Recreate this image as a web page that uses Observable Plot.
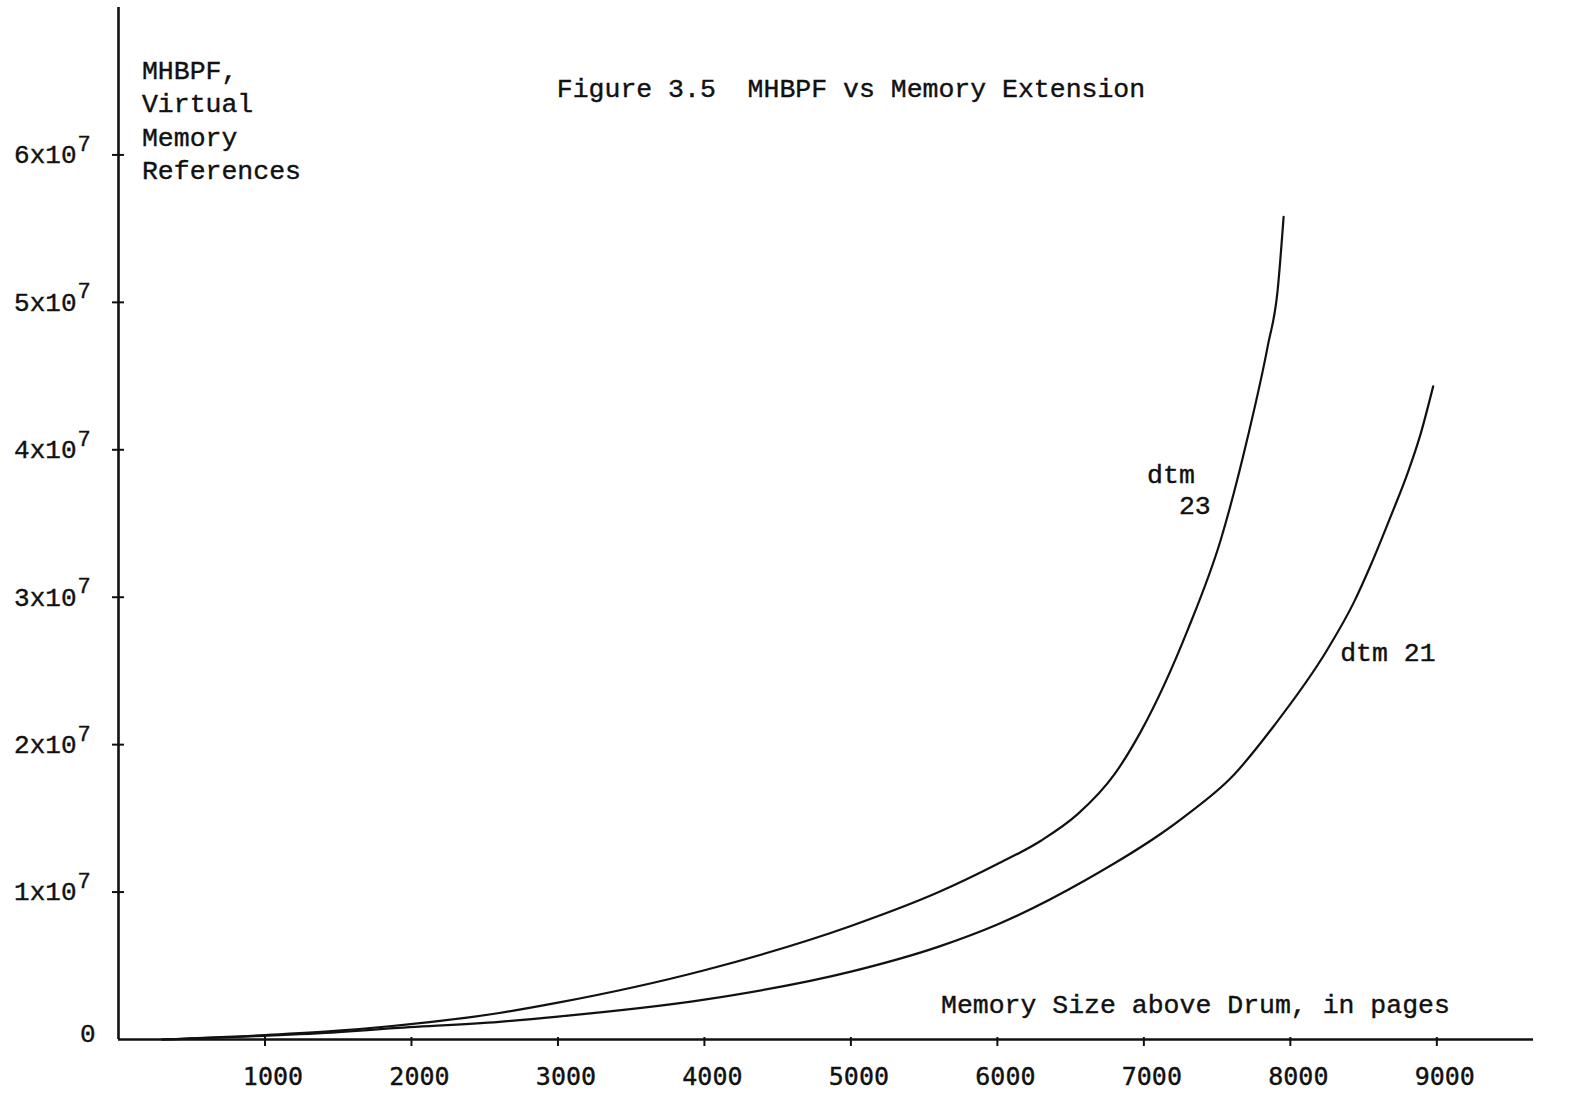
<!DOCTYPE html>
<html>
<head>
<meta charset="utf-8">
<script src="https://cdn.jsdelivr.net/npm/d3@7"></script>
<script src="https://cdn.jsdelivr.net/npm/@observablehq/plot@0.6"></script>
<style>
  html, body { margin: 0; padding: 0; background: #fff; }
  #chart { width: 1585px; height: 1096px; }
  #chart svg text { stroke: #111; stroke-width: 0.4px; }
</style>
</head>
<body>
<div id="chart"></div>
<script>
// Tick values
const xTicks = [1000, 2000, 3000, 4000, 5000, 6000, 7000, 8000, 9000];
const yTicks = [1e7, 2e7, 3e7, 4e7, 5e7, 6e7];

// Series: memory size above drum (pages) vs MHBPF (in units of 10^7 references)
const dtm23X = [300, 1000, 1500, 1850, 2600, 3000, 4000, 5000, 5600, 6000, 6300, 6550, 6800, 6980, 7300, 7525, 7710, 7845, 7913, 7954];
const dtm23Y = [0, 0.03, 0.06, 0.09, 0.18, 0.25, 0.47, 0.77, 1.00, 1.19, 1.35, 1.53, 1.80, 2.09, 2.78, 3.39, 4.09, 4.70, 5.08, 5.58];
const dtm21X = [300, 1000, 1500, 1850, 2600, 3000, 4000, 5000, 5600, 6000, 6600, 7275, 7600, 7890, 8250, 8436, 8550, 8690, 8800, 8890, 8975];
const dtm21Y = [0, 0.025, 0.05, 0.075, 0.12, 0.155, 0.27, 0.46, 0.63, 0.78, 1.08, 1.51, 1.78, 2.13, 2.64, 2.97, 3.22, 3.56, 3.84, 4.11, 4.43];

// Text
const titleText = "Figure 3.5  MHBPF vs Memory Extension";
const yTitle = "MHBPF,\nVirtual\nMemory\nReferences";
const xTitle = "Memory Size above Drum, in pages";
const seriesLabels = [
  {text: "dtm\n  23", x: 7022, y: 3.74e7},
  {text: "dtm 21", x: 8340, y: 2.632e7}
];

const table = [
  ...dtm23X.map((x, i) => ({series: "dtm 23", mem: x, refs: dtm23Y[i] * 1e7})),
  ...dtm21X.map((x, i) => ({series: "dtm 21", mem: x, refs: dtm21Y[i] * 1e7}))
];

const mono = "'Liberation Mono', 'DejaVu Sans Mono', monospace";
const ink = "#111";
const fs = 26.5;

const chart = Plot.plot({
  width: 1585,
  height: 1096,
  marginLeft: 118,
  marginRight: 52,
  marginTop: 7,
  marginBottom: 57,
  x: {domain: [0, 9660], label: null},
  y: {domain: [0, 7e7], label: null},
  style: {background: "#fff", color: ink, fontFamily: mono},
  marks: [
    // axis lines
    Plot.ruleX([0], {stroke: ink, strokeWidth: 2.6}),
    Plot.ruleY([0], {stroke: ink, strokeWidth: 2.6}),
    // y tick crosses
    Plot.axisY({ticks: yTicks, tickSize: 12, dx: 6, tickFormat: () => "", stroke: ink, strokeWidth: 2, label: null}),
    // y tick labels
    Plot.axisY({ticks: yTicks, tickSize: 0, tickPadding: 42, tickFormat: d => `${d / 1e7}x10`, fontSize: 26, fontFamily: mono, fill: ink, label: null}),
    Plot.text(yTicks, {y: d => d, text: () => "7", frameAnchor: "left", dx: -41, dy: -11, textAnchor: "start", fontSize: 22, fontFamily: mono, fill: ink}),
    Plot.axisY({ticks: [0], tickSize: 0, tickPadding: 23, dy: -6, tickFormat: () => "0", fontSize: 26, fontFamily: mono, fill: ink, label: null}),
    // x ticks
    Plot.axisX({ticks: xTicks, tickSize: 9, dy: -2, tickFormat: () => "", stroke: ink, strokeWidth: 2, label: null}),
    Plot.axisX({ticks: xTicks, tickSize: 0, tickPadding: 28, dx: 8, tickFormat: d => String(d), fontSize: 25, fontFamily: "'DejaVu Sans Mono', monospace", fill: ink, label: null}),
    // curves
    Plot.line(table, {x: "mem", y: "refs", z: "series", curve: "monotone-x", stroke: ink, strokeWidth: 2.2}),
    // labels
    Plot.text(seriesLabels, {x: "x", y: "y", text: "text", textAnchor: "start", fontSize: fs, fontFamily: mono, fill: ink, lineHeight: 1.17}),
    Plot.text([titleText], {x: 2992, y: 6.452e7, text: d => d, textAnchor: "start", fontSize: fs, fontFamily: mono, fill: ink}),
    Plot.text([yTitle], {x: 160, y: 6.248e7, text: d => d, textAnchor: "start", fontSize: fs, fontFamily: mono, fill: ink, lineHeight: 1.25}),
    Plot.text([xTitle], {x: 5615, y: 0.237e7, text: d => d, textAnchor: "start", fontSize: fs, fontFamily: mono, fill: ink})
  ]
});
document.getElementById("chart").append(chart);
</script>
</body>
</html>
